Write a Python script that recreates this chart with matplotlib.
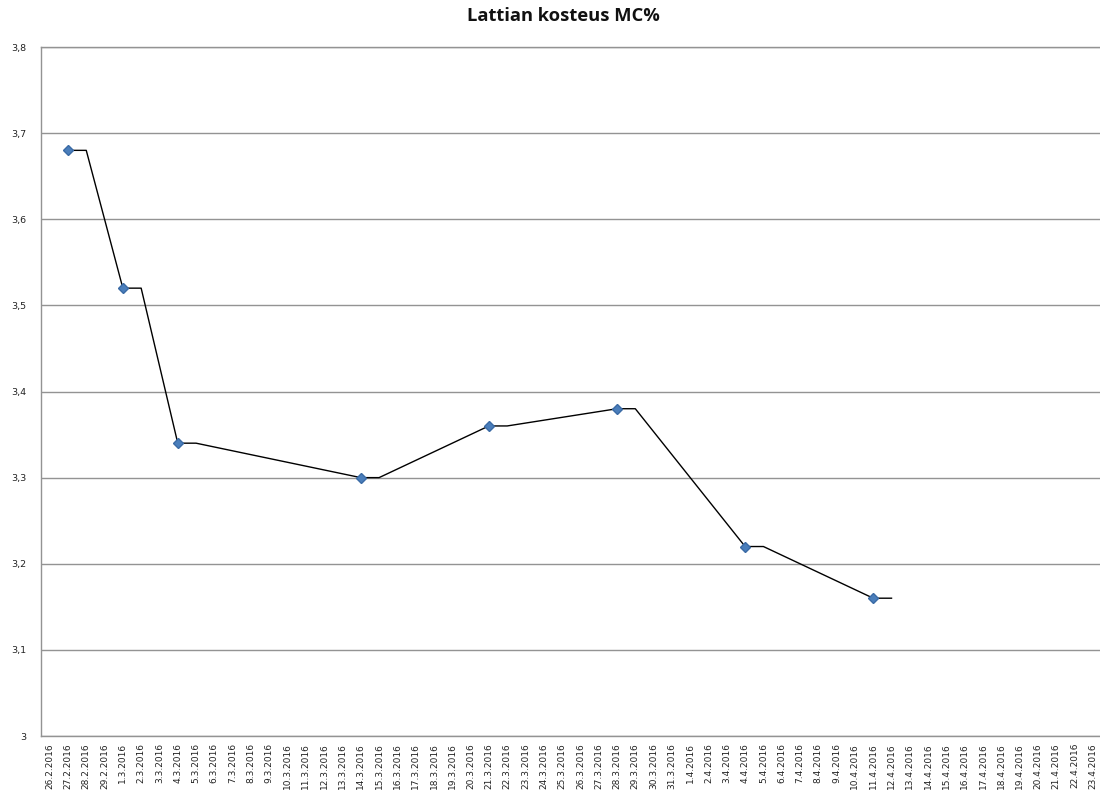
import matplotlib
matplotlib.use("Agg")
import matplotlib.pyplot as plt
import pandas as pd

# Category axis: every day of the measurement period
first_day = "2016-02-26"
last_day = "2016-04-23"

# Measurement days (markers) and floor moisture MC%
measure_dates = ["27.2.2016", "1.3.2016", "4.3.2016", "14.3.2016",
                 "21.3.2016", "28.3.2016", "4.4.2016", "11.4.2016"]
measure_values = [3.68, 3.52, 3.34, 3.30, 3.36, 3.38, 3.22, 3.16]

# Trend line points
line_dates = ["27.2.2016", "28.2.2016", "1.3.2016", "2.3.2016",
              "4.3.2016", "5.3.2016", "14.3.2016", "15.3.2016",
              "21.3.2016", "22.3.2016", "28.3.2016", "29.3.2016",
              "4.4.2016", "5.4.2016", "11.4.2016", "12.4.2016"]
line_values = [3.68, 3.68, 3.52, 3.52, 3.34, 3.34, 3.30, 3.30,
               3.36, 3.36, 3.38, 3.38, 3.22, 3.22, 3.16, 3.16]

y_ticks = [3.0, 3.1, 3.2, 3.3, 3.4, 3.5, 3.6, 3.7, 3.8]
y_labels = ["3", "3,1", "3,2", "3,3", "3,4", "3,5", "3,6", "3,7", "3,8"]

days = pd.date_range(first_day, last_day, freq="D")
categories = [f"{d.day}.{d.month}.{d.year}" for d in days]
pos = {c: i for i, c in enumerate(categories)}

fig = plt.figure(figsize=(11, 7.96), dpi=100)
W, H = 1100, 796
left, right, top, bottom = 40.5, 1102, 47, 736
ax = fig.add_axes([left / W, (H - bottom) / H, (right - left) / W, (bottom - top) / H])

grid_col = "#939393"
ax.set_ylim(3.0, 3.8)
ax.set_xlim(-0.5, len(categories) - 0.5)
ax.set_yticks(y_ticks)
ax.set_yticklabels(y_labels)
ax.yaxis.grid(True, color=grid_col, linewidth=1.0)
ax.set_axisbelow(True)
for s in ax.spines.values():
    s.set_color(grid_col)
    s.set_linewidth(1.0)
ax.spines["right"].set_visible(False)

ax.set_xticks(range(len(categories)))
ax.set_xticklabels(categories, rotation=90, fontsize=6.5, color="#222222",
                   family="DejaVu Sans")
ax.tick_params(axis="x", length=0, pad=5)
ax.tick_params(axis="y", length=0, pad=10, labelsize=6.8, labelcolor="#222222")

ax.plot([pos[d] for d in line_dates], line_values, color="black",
        linewidth=1.0, zorder=3)
ax.plot([pos[d] for d in measure_dates], measure_values, linestyle="none",
        marker="D", markersize=5.5, color="#4a7ebb", markeredgecolor="#3a6aa5",
        zorder=4)

fig.text(563 / W, 1 - 16 / H, "Lattian kosteus MC%", ha="center", va="center",
         fontsize=13.2, fontweight="bold", family="Open Sans", color="#111111")

fig.savefig("out.png", dpi=100, facecolor="white")
